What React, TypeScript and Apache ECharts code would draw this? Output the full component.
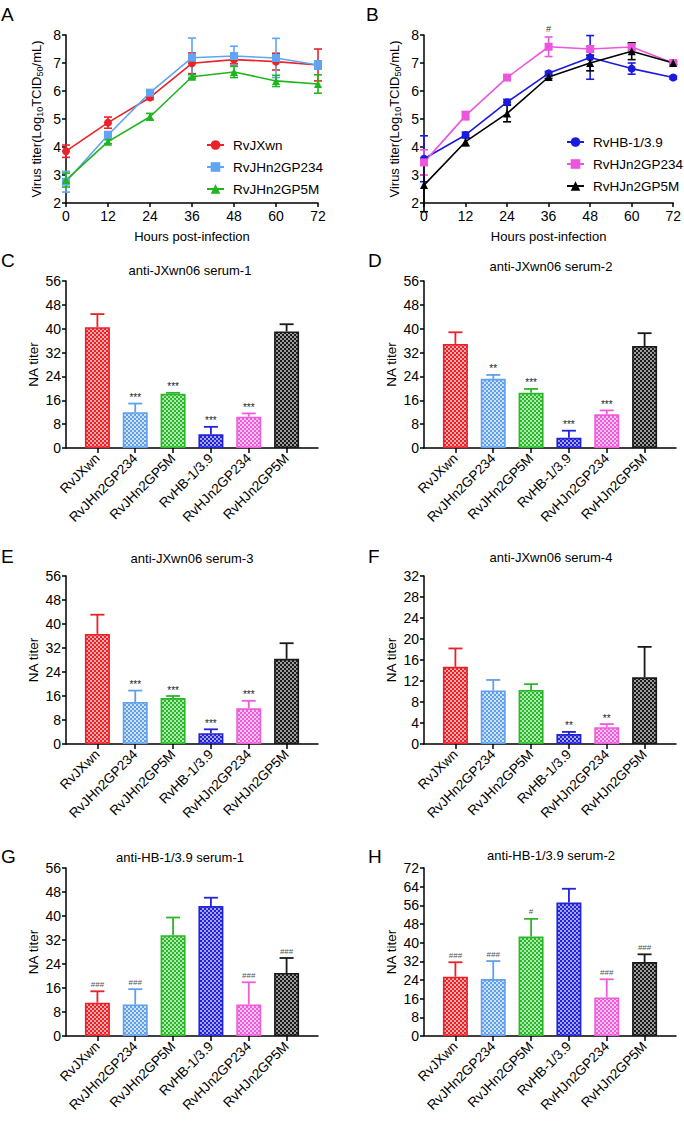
import React, { useEffect, useRef } from "react";
import * as echarts from "echarts";

const FONT = "'Liberation Sans', Arial, sans-serif";

// ---- growth curves (A, B)
const hours = [0, 12, 24, 36, 48, 60, 72];

const aNames = ["RvJXwn", "RvJHn2GP234", "RvJHn2GP5M"];
const aRvJXwn = [3.85, 4.87, 5.77, 6.99, 7.12, 7.05, 6.93];
const aRvJXwnErr = [0.22, 0.2, 0.07, 0.37, 0.15, 0.3, 0.57];
const aRvJHn2GP234 = [2.76, 4.43, 5.94, 7.19, 7.25, 7.18, 6.93];
const aRvJHn2GP234Err = [0.37, 0.12, 0.08, 0.7, 0.35, 0.7, 0.15];
const aRvJHn2GP5M = [2.82, 4.19, 5.08, 6.51, 6.68, 6.36, 6.25];
const aRvJHn2GP5MErr = [0.25, 0.07, 0.12, 0.07, 0.2, 0.2, 0.33];

const bNames = ["RvHB-1/3.9", "RvHJn2GP234", "RvHJn2GP5M"];
const bRvHB = [3.58, 4.43, 5.6, 6.63, 7.2, 6.8, 6.48];
const bRvHBErr = [0.82, 0.1, 0.1, 0.07, 0.78, 0.2, 0.05];
const bRvHJn2GP234 = [3.45, 5.12, 6.48, 7.58, 7.5, 7.57, 7.0];
const bRvHJn2GP234Err = [0.45, 0.15, 0.05, 0.35, 0.1, 0.1, 0.05];
const bRvHJn2GP234Sig = ["", "", "", "#", "", "", ""];
const bRvHJn2GP5M = [2.64, 4.19, 5.2, 6.5, 7.0, 7.42, 7.0];
const bRvHJn2GP5MErr = [0.95, 0.15, 0.3, 0.05, 0.28, 0.3, 0.05];

// ---- neutralization panels (C-H)
const viruses = ["RvJXwn", "RvJHn2GP234", "RvJHn2GP5M", "RvHB-1/3.9", "RvHJn2GP234", "RvHJn2GP5M"];

const cTitle = "anti-JXwn06 serum-1";
const cMeans = [40.5, 12.0, 18.2, 4.6, 10.5, 39.1];
const cErrs = [4.4, 2.9, 0.3, 2.5, 1.1, 2.4];
const cSig = ["", "***", "***", "***", "***", ""];

const dTitle = "anti-JXwn06 serum-2";
const dMeans = [34.9, 23.2, 18.5, 3.4, 11.3, 34.2];
const dErrs = [3.9, 1.3, 1.3, 2.4, 1.3, 4.3];
const dSig = ["", "**", "***", "***", "***", ""];

const eTitle = "anti-JXwn06 serum-3";
const eMeans = [36.7, 14.0, 15.3, 3.6, 11.9, 28.4];
const eErrs = [6.4, 3.8, 0.7, 1.3, 2.5, 5.2];
const eSig = ["", "***", "***", "***", "***", ""];

const fTitle = "anti-JXwn06 serum-4";
const fMeans = [14.7, 10.2, 10.3, 1.9, 3.2, 12.7];
const fErrs = [3.5, 2.0, 1.1, 0.4, 0.6, 5.8];
const fSig = ["", "", "", "**", "**", ""];

const gTitle = "anti-HB-1/3.9 serum-1";
const gMeans = [11.1, 10.5, 33.6, 43.3, 10.5, 21.0];
const gErrs = [3.8, 5.1, 5.9, 2.8, 7.4, 5.0];
const gSig = ["###", "###", "", "", "###", "###"];

const hTitle = "anti-HB-1/3.9 serum-2";
const hMeans = [25.4, 24.4, 42.6, 57.2, 16.5, 31.7];
const hErrs = [6.2, 7.7, 7.6, 5.9, 7.8, 3.3];
const hSig = ["###", "###", "#", "", "###", "###"];

const barColors = ["#ec2027", "#5fa0ec", "#2ab72a", "#2323d8", "#ef5cd9", "#1a1a1a"];
const barTints = ["#f8aaac", "#cfe2fa", "#aee8ae", "#a4a4f2", "#fac4f2", "#9c9c9c"];

function makePattern(color: string, tint: string) {
  const c = document.createElement("canvas");
  c.width = 4;
  c.height = 4;
  const ctx = c.getContext("2d")!;
  ctx.fillStyle = tint;
  ctx.fillRect(0, 0, 4, 4);
  ctx.fillStyle = color;
  ctx.fillRect(0, 0, 2, 2);
  ctx.fillRect(2, 2, 2, 2);
  return { image: c, repeat: "repeat", imageWidth: 4, imageHeight: 4 } as any;
}

export default function App() {
  const ref = useRef<HTMLDivElement>(null);
  useEffect(() => {
    if (!ref.current) return;
    const chart = echarts.init(ref.current, undefined, { renderer: "svg" });
    const patterns = barColors.map((c, i) => makePattern(c, barTints[i]));

    const tickFont = { fontFamily: FONT, fontSize: 14, color: "#000" };
    const axisLine = { show: true, onZero: false, lineStyle: { color: "#000", width: 1.5 } };
    const axisTick = { show: true, length: 4, lineStyle: { color: "#000", width: 1.5 } };

    const grids = [
      { left: 66, top: 35, width: 252, height: 168 },
      { left: 424, top: 35, width: 252, height: 168 },
      { left: 66, top: 281, width: 252, height: 167 },
      { left: 424, top: 281, width: 252, height: 167 },
      { left: 66, top: 576, width: 252, height: 168 },
      { left: 424, top: 576, width: 252, height: 168 },
      { left: 66, top: 868, width: 252, height: 168 },
      { left: 424, top: 868, width: 252, height: 168 },
    ];

    const xAxes: any[] = [];
    const yAxes: any[] = [];
    const virusName = {
      name: "Virus titer(Log{s|10}TCID{s|50}/mL)",
      nameLocation: "middle",
      nameGap: 22,
      nameTextStyle: {
        fontFamily: FONT,
        fontSize: 13,
        color: "#000",
        rich: { s: { fontFamily: FONT, fontSize: 9, color: "#000", padding: [6, 0, 0, 0] } },
      },
    };
    for (let g = 0; g < 2; g++) {
      xAxes.push({
        type: "value",
        gridIndex: g,
        min: 0,
        max: 72,
        interval: 12,
        axisLine,
        axisTick,
        splitLine: { show: false },
        axisLabel: { ...tickFont, margin: 6 },
        name: "Hours post-infection",
        nameLocation: "middle",
        nameGap: 27,
        nameTextStyle: { fontFamily: FONT, fontSize: 13, color: "#000" },
      });
      yAxes.push({
        type: "value",
        gridIndex: g,
        min: 2,
        max: 8,
        interval: 1,
        axisLine,
        axisTick,
        splitLine: { show: false },
        axisLabel: { ...tickFont, margin: 5 },
        ...virusName,
      });
    }
    const barPanels = [
      { t: cTitle, m: cMeans, e: cErrs, s: cSig, max: 56, step: 8 },
      { t: dTitle, m: dMeans, e: dErrs, s: dSig, max: 56, step: 8 },
      { t: eTitle, m: eMeans, e: eErrs, s: eSig, max: 56, step: 8 },
      { t: fTitle, m: fMeans, e: fErrs, s: fSig, max: 32, step: 4 },
      { t: gTitle, m: gMeans, e: gErrs, s: gSig, max: 56, step: 8 },
      { t: hTitle, m: hMeans, e: hErrs, s: hSig, max: 72, step: 8 },
    ];
    const idx = viruses.map((_, i) => i);
    barPanels.forEach((p, k) => {
      const g = k + 2;
      xAxes.push({
        type: "value",
        gridIndex: g,
        min: -0.83,
        max: 5.83,
        axisLine,
        axisTick: { ...axisTick, length: 5, customValues: idx },
        splitLine: { show: false },
        axisLabel: {
          fontFamily: FONT,
          fontSize: 13.5,
          color: "#000",
          customValues: idx,
          rotate: 45,
          margin: 8,
          formatter: (v: number) => viruses[Math.round(v)] ?? "",
        },
      });
      yAxes.push({
        type: "value",
        gridIndex: g,
        min: 0,
        max: p.max,
        interval: p.step,
        axisLine,
        axisTick,
        splitLine: { show: false },
        axisLabel: { ...tickFont, margin: 5 },
        name: "NA titer",
        nameLocation: "middle",
        nameGap: 26,
        nameTextStyle: { fontFamily: FONT, fontSize: 13.5, color: "#000" },
      });
    });

    const series: any[] = [];
    const lineErr = (color: string, sig?: string[]) => (params: any, api: any) => {
      const x = api.value(0);
      const m = api.value(1);
      const e = api.value(2);
      const top = api.coord([x, m + e]);
      const bot = api.coord([x, m - e]);
      const cw = 4;
      const style = { stroke: color, lineWidth: 1.6 };
      const children: any[] = [
        { type: "line", shape: { x1: top[0], y1: top[1], x2: bot[0], y2: bot[1] }, style },
        { type: "line", shape: { x1: top[0] - cw, y1: top[1], x2: top[0] + cw, y2: top[1] }, style },
        { type: "line", shape: { x1: bot[0] - cw, y1: bot[1], x2: bot[0] + cw, y2: bot[1] }, style },
      ];
      const s = sig ? sig[params.dataIndex] : "";
      if (s) {
        children.push({
          type: "text",
          x: top[0],
          y: top[1] - 3,
          style: { text: s, fontFamily: FONT, fontSize: 9, fill: "#333", textAlign: "center", textVerticalAlign: "bottom" },
        });
      }
      return { type: "group", children };
    };

    const lineDefs = [
      { g: 0, name: aNames[0], m: aRvJXwn, e: aRvJXwnErr, c: "#e8232a", sym: "circle", size: 8 },
      { g: 0, name: aNames[1], m: aRvJHn2GP234, e: aRvJHn2GP234Err, c: "#5fa5f2", sym: "rect", size: 8 },
      { g: 0, name: aNames[2], m: aRvJHn2GP5M, e: aRvJHn2GP5MErr, c: "#1fb51f", sym: "triangle", size: 8 },
      { g: 1, name: bNames[0], m: bRvHB, e: bRvHBErr, c: "#1a1ae0", sym: "circle", size: 8 },
      { g: 1, name: bNames[1], m: bRvHJn2GP234, e: bRvHJn2GP234Err, c: "#ee55dd", sym: "rect", size: 8, sig: bRvHJn2GP234Sig },
      { g: 1, name: bNames[2], m: bRvHJn2GP5M, e: bRvHJn2GP5MErr, c: "#000000", sym: "triangle", size: 8 },
    ];
    lineDefs.forEach((d) => {
      series.push({
        type: "custom",
        xAxisIndex: d.g,
        yAxisIndex: d.g,
        z: 1,
        renderItem: lineErr(d.c, (d as any).sig),
        data: hours.map((h, i) => [h, d.m[i], d.e[i]]),
        encode: { x: 0, y: 1 },
        silent: true,
      });
    });
    lineDefs.forEach((d) => {
      series.push({
        type: "line",
        name: d.name,
        xAxisIndex: d.g,
        yAxisIndex: d.g,
        z: 3,
        symbol: d.sym,
        symbolSize: d.size,
        color: d.c,
        itemStyle: { color: d.c },
        lineStyle: { color: d.c, width: 1.6 },
        data: hours.map((h, i) => [h, d.m[i]]),
      });
    });

    const barErr = (sig: string[]) => (params: any, api: any) => {
      const i = api.value(0);
      const m = api.value(1);
      const e = api.value(2);
      const top = api.coord([i, m + e]);
      const base = api.coord([i, m]);
      const color = barColors[params.dataIndex];
      const style = { stroke: color, lineWidth: 1.8 };
      const cw = 7;
      const children: any[] = [
        { type: "line", shape: { x1: top[0], y1: top[1], x2: base[0], y2: base[1] }, style },
        { type: "line", shape: { x1: top[0] - cw, y1: top[1], x2: top[0] + cw, y2: top[1] }, style },
      ];
      const s = sig[params.dataIndex];
      if (s) {
        const hash = s.startsWith("#");
        children.push({
          type: "text",
          x: top[0],
          y: top[1] - (hash ? 3 : 1),
          style: {
            text: s,
            fontFamily: FONT,
            fontSize: hash ? 8 : 10,
            fill: hash ? "#555" : "#222",
            textAlign: "center",
            textVerticalAlign: "bottom",
          },
        });
      }
      return { type: "group", children };
    };

    barPanels.forEach((p, k) => {
      const g = k + 2;
      series.push({
        type: "bar",
        xAxisIndex: g,
        yAxisIndex: g,
        barWidth: 25,
        z: 2,
        data: p.m.map((v, i) => ({
          value: [i, v],
          itemStyle: { color: patterns[i], borderColor: barColors[i], borderWidth: 1.6 },
        })),
      });
      series.push({
        type: "custom",
        xAxisIndex: g,
        yAxisIndex: g,
        z: 3,
        renderItem: barErr(p.s),
        data: p.m.map((v, i) => [i, v, p.e[i]]),
        encode: { x: 0, y: 1 },
        silent: true,
      });
    });

    const letters = [
      ["A", 1, 14], ["B", 366, 14], ["C", 1, 260], ["D", 368, 260],
      ["E", 1, 556], ["F", 368, 556], ["G", 1, 856], ["H", 368, 856],
    ];
    const titles = [
      [cTitle, 190, 270], [dTitle, 551, 266], [eTitle, 192, 558], [fTitle, 551, 557],
      [gTitle, 180, 857], [hTitle, 551, 855],
    ];
    const graphic: any[] = [
      ...letters.map(([t, x, y]) => ({
        type: "text",
        x,
        y,
        style: { text: t, fontFamily: FONT, fontSize: 19, fill: "#000", textAlign: "left", textVerticalAlign: "middle" },
      })),
      ...titles.map(([t, x, y]) => ({
        type: "text",
        x,
        y,
        style: { text: t, fontFamily: FONT, fontSize: 13, fill: "#000", textAlign: "center", textVerticalAlign: "middle" },
      })),
    ];

    const legendBase = {
      orient: "vertical",
      itemWidth: 17,
      itemHeight: 12,
      itemGap: 8,
      textStyle: { fontFamily: FONT, fontSize: 13.5, color: "#000", padding: [0, 0, 0, 4] },
    };

    chart.setOption({
      animation: false,
      backgroundColor: "#fff",
      grid: grids,
      xAxis: xAxes,
      yAxis: yAxes,
      legend: [
        { ...legendBase, data: aNames, left: 201, top: 133 },
        { ...legendBase, data: bNames, left: 561, top: 130 },
      ],
      graphic,
      series,
    });
    return () => chart.dispose();
  }, []);
  return <div ref={ref} style={{ position: "absolute", left: 0, top: 0, width: 684, height: 1122 }} />;
}
